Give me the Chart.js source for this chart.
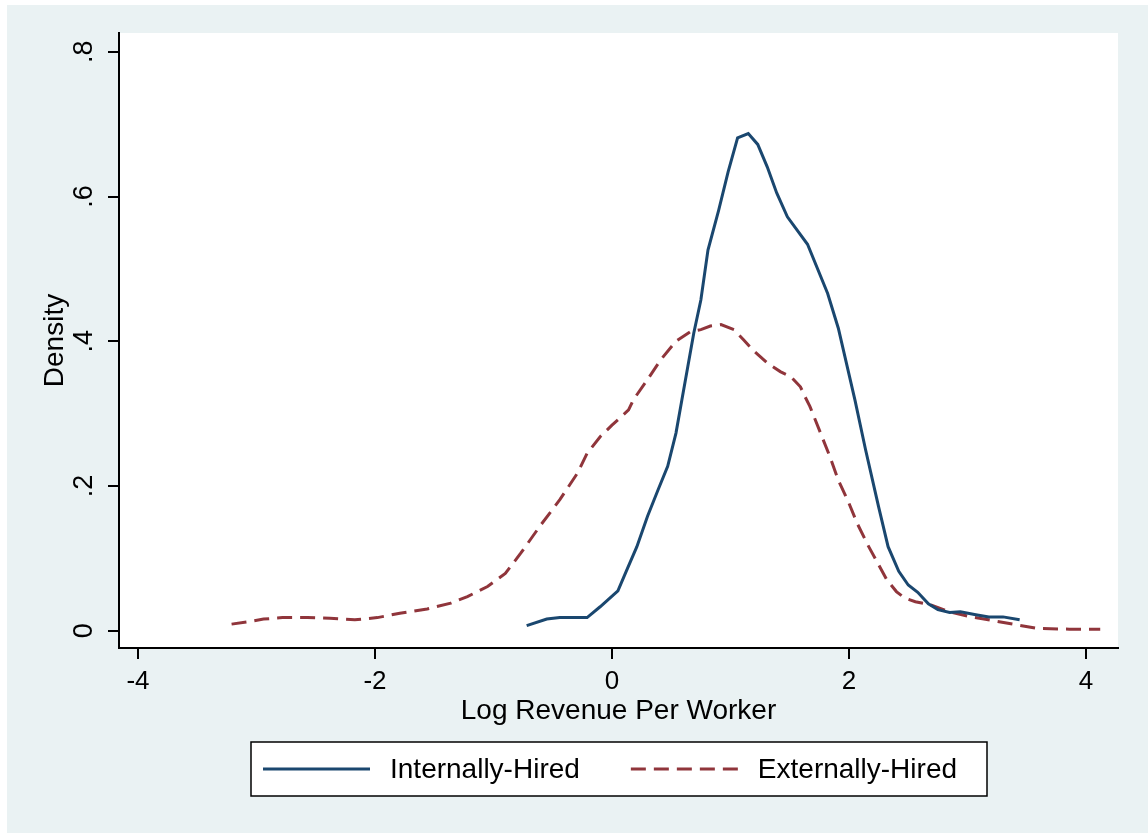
<!DOCTYPE html>
<html>
<head>
<meta charset="utf-8">
<title>Log Revenue Per Worker density</title>
<script src="https://cdn.jsdelivr.net/npm/chart.js@4/dist/chart.umd.min.js"></script>
<style>
html, body { margin: 0; padding: 0; background: #fff; }
canvas { display: block; }
</style>
</head>
<body>
<canvas id="density" width="1148" height="833"></canvas>
<script>
// kernel density estimates, log revenue per worker
var internalX = [-0.72,-0.55,-0.44,-0.21,-0.10,0.05,0.12,0.21,0.30,0.39,0.47,0.54,0.59,0.64,0.69,0.75,0.81,0.90,0.98,1.06,1.15,1.23,1.31,1.39,1.48,1.65,1.82,1.91,2.05,2.14,2.25,2.33,2.42,2.50,2.58,2.67,2.75,2.85,2.94,3.07,3.18,3.30,3.44]
var internalY = [0.007,0.016,0.018,0.018,0.033,0.055,0.082,0.116,0.158,0.195,0.227,0.273,0.319,0.365,0.411,0.457,0.526,0.581,0.634,0.681,0.687,0.672,0.641,0.605,0.572,0.534,0.466,0.418,0.319,0.250,0.171,0.116,0.082,0.063,0.053,0.037,0.029,0.025,0.026,0.022,0.019,0.019,0.015]

var externalX = [-3.21,-3.08,-2.94,-2.78,-2.57,-2.38,-2.17,-1.98,-1.79,-1.56,-1.36,-1.22,-1.05,-0.90,-0.77,-0.61,-0.44,-0.29,-0.21,-0.10,0.00,0.14,0.18,0.30,0.41,0.54,0.66,0.75,0.83,0.92,1.03,1.11,1.20,1.31,1.42,1.51,1.59,1.63,1.67,1.76,1.84,1.91,2.00,2.07,2.16,2.25,2.32,2.40,2.47,2.56,2.68,2.85,3.03,3.21,3.38,3.59,3.86,4.12]
var externalY = [0.009,0.012,0.016,0.018,0.018,0.017,0.015,0.018,0.024,0.030,0.038,0.047,0.061,0.079,0.107,0.144,0.181,0.218,0.245,0.268,0.284,0.305,0.319,0.347,0.374,0.400,0.413,0.416,0.421,0.423,0.416,0.402,0.386,0.370,0.358,0.351,0.337,0.323,0.310,0.273,0.240,0.208,0.176,0.148,0.118,0.091,0.070,0.054,0.045,0.040,0.036,0.026,0.019,0.014,0.009,0.003,0.002,0.002]

var xTicks = [-4, -2, 0, 2, 4]
var xTickLabels = ['-4', '-2', '0', '2', '4']
var yTicks = [0, 0.2, 0.4, 0.6, 0.8]
var yTickLabels = ['0', '.2', '.4', '.6', '.8']

function pairs(xs, ys) {
  return xs.map(function (x, i) { return { x: x, y: ys[i] } })
}

Chart.defaults.font.family = '"Liberation Sans", Arial, Helvetica, sans-serif'
Chart.defaults.color = '#000'

// stata-ish backdrop: light outer panel, white plot region
var backdrop = {
  id: 'backdrop',
  beforeDraw: function (chart) {
    var c = chart.ctx, a = chart.chartArea
    c.save()
    c.fillStyle = '#fff'
    c.fillRect(0, 0, chart.width, chart.height)
    c.fillStyle = '#EAF2F3'
    c.fillRect(7, 5, chart.width - 7, chart.height - 5)
    c.fillStyle = '#fff'
    c.fillRect(a.left, a.top, a.right - a.left, a.bottom - a.top)
    c.restore()
  }
}

// framed legend row under the x axis title
var boxedLegend = {
  id: 'boxedLegend',
  afterDraw: function (chart) {
    var c = chart.ctx
    var box = { left: 251, top: 742, width: 736, height: 54 }
    var midY = box.top + box.height / 2
    c.save()
    c.fillStyle = '#fff'
    c.fillRect(box.left, box.top, box.width, box.height)
    c.strokeStyle = '#000'
    c.lineWidth = 1.5
    c.strokeRect(box.left, box.top, box.width, box.height)
    c.font = '28px "Liberation Sans", Arial, sans-serif'
    c.textBaseline = 'middle'
    var x = box.left + 12
    chart.data.datasets.forEach(function (ds) {
      c.strokeStyle = ds.borderColor
      c.lineWidth = ds.borderWidth
      c.setLineDash(ds.borderDash || [])
      c.beginPath()
      c.moveTo(x, midY)
      c.lineTo(x + 107, midY)
      c.stroke()
      c.setLineDash([])
      c.fillStyle = '#000'
      c.fillText(ds.label, x + 127, midY + 1)
      x += 127 + c.measureText(ds.label).width + 51
    })
    c.restore()
  }
}

var ctx = document.getElementById('density').getContext('2d')
var chart = new Chart(ctx, {
  type: 'line',
  data: {
    datasets: [
      {
        label: 'Internally-Hired',
        data: pairs(internalX, internalY),
        borderColor: '#1A476F',
        borderWidth: 3,
        pointRadius: 0,
        tension: 0,
        fill: false
      },
      {
        label: 'Externally-Hired',
        data: pairs(externalX, externalY),
        borderColor: '#90353B',
        borderWidth: 3,
        borderDash: [15, 8],
        pointRadius: 0,
        tension: 0,
        fill: false
      }
    ]
  },
  options: {
    responsive: false,
    animation: false,
    layout: { padding: { left: 0, top: 33, right: 30, bottom: 100 } },
    plugins: {
      legend: { display: false },
      tooltip: { enabled: false }
    },
    scales: {
      x: {
        type: 'linear',
        min: -4.16,
        max: 4.27,
        afterBuildTicks: function (s) { s.ticks = xTicks.map(function (v) { return { value: v } }) },
        afterFit: function (s) { s.height = 85 },
        grid: { drawOnChartArea: false, tickLength: 11, color: '#000', lineWidth: 2 },
        border: { color: '#000', width: 2 },
        ticks: {
          font: { size: 26 },
          padding: 7,
          maxRotation: 0,
          callback: function (v, i) { return xTickLabels[i] }
        },
        title: {
          display: true,
          text: 'Log Revenue Per Worker',
          font: { size: 28 },
          padding: { top: 0, bottom: 5 }
        }
      },
      y: {
        type: 'linear',
        min: -0.024,
        max: 0.826,
        afterBuildTicks: function (s) { s.ticks = yTicks.map(function (v) { return { value: v } }) },
        afterFit: function (s) { s.width = 119 },
        grid: { drawOnChartArea: false, tickLength: 11, color: '#000', lineWidth: 2 },
        border: { color: '#000', width: 2 },
        ticks: {
          font: { size: 27 },
          padding: 12,
          minRotation: 90,
          maxRotation: 90,
          crossAlign: 'center',
          callback: function (v, i) { return yTickLabels[i] }
        },
        title: {
          display: true,
          text: 'Density',
          font: { size: 28 },
          padding: { top: 38, bottom: 0 }
        }
      }
    }
  },
  plugins: [backdrop, boxedLegend]
})
</script>
</body>
</html>
